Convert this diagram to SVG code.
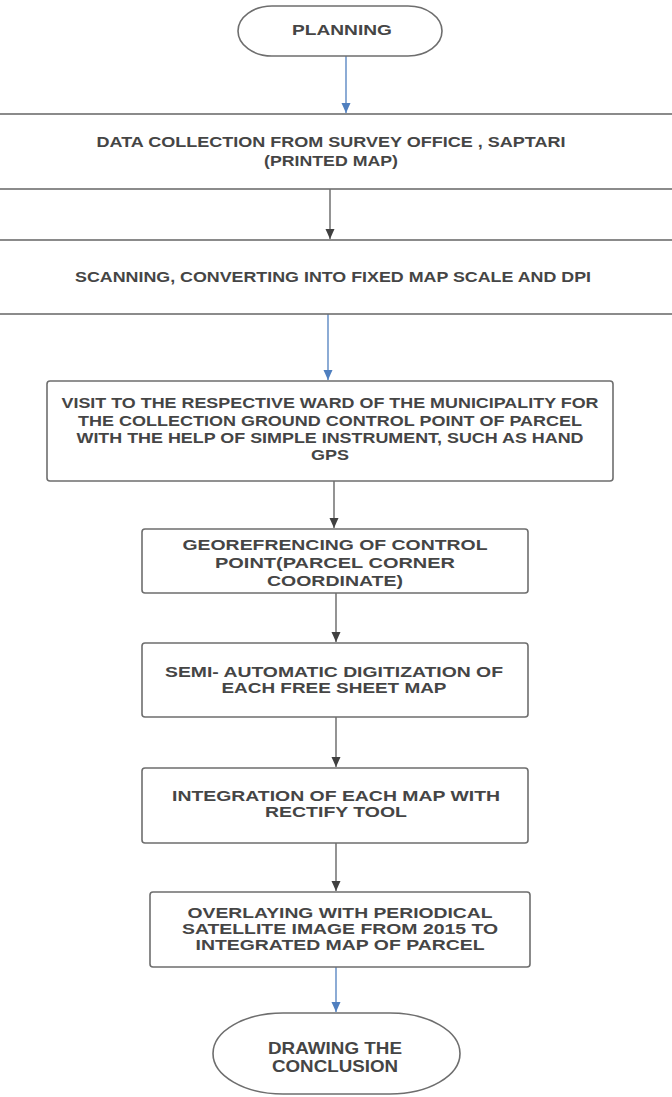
<svg xmlns="http://www.w3.org/2000/svg" width="672" height="1097" viewBox="0 0 672 1097">
<defs>
<style>
.box{fill:#ffffff;stroke:#6e6e6e;stroke-width:1.6}
.t{font-family:"Liberation Sans",Arial,sans-serif;font-weight:bold;font-size:15.5px;fill:#454545;text-anchor:middle}
.tb{font-size:16.5px}
.cb{fill:none;stroke:#4f7fbf;stroke-width:1.3}
.cg{fill:none;stroke:#5a5a5a;stroke-width:1.3}
</style>
<marker id="ab" markerUnits="userSpaceOnUse" markerWidth="10" markerHeight="10" viewBox="0 0 10 10" refX="10" refY="5" orient="auto">
<path d="M0,0.5 L10,5 L0,9.5 Z" fill="#4f7fbf"/>
</marker>
<marker id="ag" markerUnits="userSpaceOnUse" markerWidth="10" markerHeight="10" viewBox="0 0 10 10" refX="10" refY="5" orient="auto">
<path d="M0,0.5 L10,5 L0,9.5 Z" fill="#404040"/>
</marker>
</defs>
<rect width="672" height="1097" fill="#ffffff"/>

<g id="connectors">
<line class="cb" x1="346" y1="56" x2="346" y2="113" marker-end="url(#ab)"/>
<line class="cg" x1="330" y1="189" x2="330" y2="239" marker-end="url(#ag)"/>
<line class="cb" x1="328" y1="314" x2="328" y2="380" marker-end="url(#ab)"/>
<line class="cg" x1="334" y1="481" x2="334" y2="528" marker-end="url(#ag)"/>
<line class="cg" x1="336" y1="593" x2="336" y2="642" marker-end="url(#ag)"/>
<line class="cg" x1="336" y1="717" x2="336" y2="767" marker-end="url(#ag)"/>
<line class="cg" x1="336" y1="843" x2="336" y2="891" marker-end="url(#ag)"/>
<line class="cb" x1="336" y1="967" x2="336" y2="1012" marker-end="url(#ab)"/>
<polygon points="664,150 671,153.5 664,157" fill="#333333"/>
</g>

<g id="planning">
<rect class="box" x="238" y="6" width="204" height="50" rx="34" ry="25"/>
<text class="t" x="342" y="35" textLength="100" lengthAdjust="spacingAndGlyphs">PLANNING</text>
</g>

<g id="data-collection">
<rect class="box" x="-10" y="114" width="692" height="75"/>
<text class="t" x="331" y="147" textLength="469" lengthAdjust="spacingAndGlyphs">DATA COLLECTION FROM SURVEY OFFICE , SAPTARI</text>
<text class="t" x="331" y="166" textLength="134" lengthAdjust="spacingAndGlyphs">(PRINTED MAP)</text>
</g>

<g id="scanning">
<rect class="box" x="-10" y="240" width="692" height="74"/>
<text class="t" x="333" y="282" textLength="516" lengthAdjust="spacingAndGlyphs">SCANNING, CONVERTING INTO FIXED MAP SCALE AND DPI</text>
</g>

<g id="visit">
<rect class="box" x="47" y="381" width="566" height="100" rx="3"/>
<text class="t" x="330" y="408" textLength="537" lengthAdjust="spacingAndGlyphs">VISIT TO THE RESPECTIVE WARD OF THE MUNICIPALITY FOR</text>
<text class="t" x="330" y="425.5" textLength="504" lengthAdjust="spacingAndGlyphs">THE COLLECTION GROUND CONTROL POINT OF PARCEL</text>
<text class="t" x="330" y="443" textLength="507" lengthAdjust="spacingAndGlyphs">WITH THE HELP OF SIMPLE INSTRUMENT, SUCH AS HAND</text>
<text class="t" x="330" y="460" textLength="38" lengthAdjust="spacingAndGlyphs">GPS</text>
</g>

<g id="georeferencing">
<rect class="box" x="142" y="529" width="386" height="64" rx="3"/>
<text class="t" x="335" y="550" textLength="305" lengthAdjust="spacingAndGlyphs">GEOREFRENCING OF CONTROL</text>
<text class="t" x="335" y="568" textLength="240" lengthAdjust="spacingAndGlyphs">POINT(PARCEL CORNER</text>
<text class="t" x="335" y="586" textLength="136" lengthAdjust="spacingAndGlyphs">COORDINATE)</text>
</g>

<g id="digitization">
<rect class="box" x="142" y="643" width="386" height="74" rx="3"/>
<text class="t" x="334" y="677" textLength="338" lengthAdjust="spacingAndGlyphs">SEMI- AUTOMATIC DIGITIZATION OF</text>
<text class="t" x="334" y="693" textLength="225" lengthAdjust="spacingAndGlyphs">EACH FREE SHEET MAP</text>
</g>

<g id="integration">
<rect class="box" x="142" y="768" width="386" height="75" rx="3"/>
<text class="t" x="336" y="801" textLength="328" lengthAdjust="spacingAndGlyphs">INTEGRATION OF EACH MAP WITH</text>
<text class="t" x="336" y="817" textLength="142" lengthAdjust="spacingAndGlyphs">RECTIFY TOOL</text>
</g>

<g id="overlaying">
<rect class="box" x="150" y="892" width="380" height="75" rx="3"/>
<text class="t" x="340" y="918" textLength="305" lengthAdjust="spacingAndGlyphs">OVERLAYING WITH PERIODICAL</text>
<text class="t" x="340" y="934" textLength="316" lengthAdjust="spacingAndGlyphs">SATELLITE IMAGE FROM 2015 TO</text>
<text class="t" x="340" y="950" textLength="289" lengthAdjust="spacingAndGlyphs">INTEGRATED MAP OF PARCEL</text>
</g>

<g id="conclusion">
<rect class="box" x="213" y="1013" width="247" height="81" rx="70" ry="40.5"/>
<text class="t tb" x="335" y="1054" textLength="134" lengthAdjust="spacingAndGlyphs">DRAWING THE</text>
<text class="t tb" x="335" y="1072" textLength="126" lengthAdjust="spacingAndGlyphs">CONCLUSION</text>
</g>
</svg>
